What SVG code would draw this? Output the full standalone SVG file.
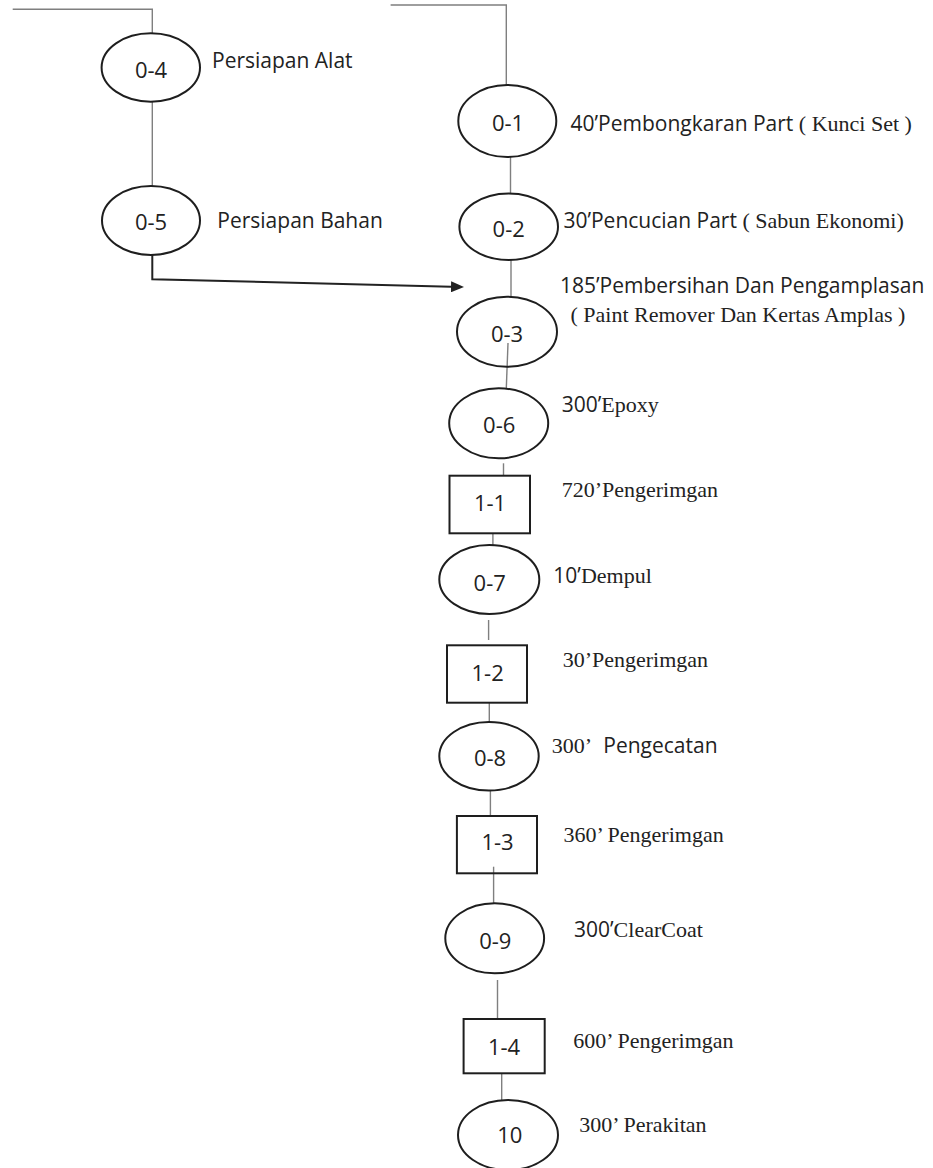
<svg xmlns="http://www.w3.org/2000/svg" width="933" height="1168" viewBox="0 0 933 1168">
<defs>
<style>
.conn{fill:none;stroke:#7f7f7f;stroke-width:1.4}
.arr{fill:none;stroke:#222;stroke-width:2}
.shape{fill:none;stroke:#1e1e1e;stroke-width:2}
.num{font-family:"Open Sans","Liberation Sans",sans-serif;font-size:22px;fill:#222;text-anchor:middle}
.lab{fill:#222}
.s{font-family:"Open Sans","Liberation Sans",sans-serif;font-size:21px}
.t{font-family:"Liberation Serif","Times New Roman",serif;font-size:22px}
</style>
<marker id="ah" viewBox="0 0 13 11" refX="0" refY="5.5" markerWidth="13" markerHeight="11" markerUnits="userSpaceOnUse" orient="auto">
<path d="M0,0 L13,5.5 L0,11 z" fill="#222"/>
</marker>
</defs>
<rect width="933" height="1168" fill="#fff"/>
<g id="connectors">
<path class="conn" d="M12.7,9.3 H152.3 V33.3"/>
<path class="conn" d="M152.3,101.7 V186"/>
<path class="arr" d="M152.3,255 V279.3 L451,286.7" marker-end="url(#ah)"/>
<path class="conn" d="M390.6,5 H506.3 V85"/>
<path class="conn" d="M510.5,156.7 V193.3"/>
<path class="conn" d="M511,260 V297"/>
<path class="conn" d="M508,343 L506.3,388.3"/>
<path class="conn" d="M503.5,463.3 V475.7"/>
<path class="conn" d="M492.9,533.3 V545"/>
<path class="conn" d="M488.6,620 V640"/>
<path class="conn" d="M489.3,702.7 V722"/>
<path class="conn" d="M490.4,790.7 V816"/>
<path class="conn" d="M493.6,866.7 V903.3"/>
<path class="conn" d="M497.5,980 V1019"/>
<path class="conn" d="M501.7,1073.3 V1100"/>
</g>
<g id="node-0-4">
<ellipse class="shape" cx="150.8" cy="67.5" rx="49.2" ry="34.2"/>
<text class="num" x="151" y="78.3">0-4</text>
<text class="lab" x="212" y="67.7"><tspan class="s">Persiapan Alat</tspan></text>
</g>
<g id="node-0-5">
<ellipse class="shape" cx="151" cy="220.5" rx="49" ry="34.5"/>
<text class="num" x="151" y="230">0-5</text>
<text class="lab" x="217.3" y="228.3"><tspan class="s">Persiapan Bahan</tspan></text>
</g>
<g id="node-0-1">
<ellipse class="shape" cx="507.3" cy="121" rx="49" ry="36"/>
<text class="num" x="508" y="130.7">0-1</text>
<text class="lab" x="570.5" y="130.7"><tspan class="s">40’Pembongkaran Part </tspan><tspan class="t">( Kunci Set )</tspan></text>
</g>
<g id="node-0-2">
<ellipse class="shape" cx="508.7" cy="226.7" rx="49.3" ry="33.3"/>
<text class="num" x="508.7" y="237">0-2</text>
<text class="lab" x="563.4" y="228.3"><tspan class="s">30’Pencucian Part </tspan><tspan class="t">( Sabun Ekonomi)</tspan></text>
</g>
<g id="node-0-3">
<ellipse class="shape" cx="507" cy="331.7" rx="50" ry="35"/>
<text class="num" x="507" y="341.7">0-3</text>
<text class="lab" x="560" y="293.3"><tspan class="s">185’Pembersihan Dan Pengamplasan</tspan></text>
<text class="lab" x="570.5" y="321.7"><tspan class="t">( Paint Remover Dan Kertas Amplas )</tspan></text>
</g>
<g id="node-0-6">
<ellipse class="shape" cx="498.7" cy="423.3" rx="49.5" ry="35"/>
<text class="num" x="499.2" y="433.3">0-6</text>
<text class="lab" x="561.7" y="412.3"><tspan class="s">300’</tspan><tspan class="t">Epoxy</tspan></text>
</g>
<g id="node-1-1">
<rect class="shape" x="449.5" y="475.7" width="80.5" height="57.6"/>
<text class="num" x="490" y="511">1-1</text>
<text class="lab" x="561.7" y="496.7"><tspan class="t">720’Pengerimgan</tspan></text>
</g>
<g id="node-0-7">
<ellipse class="shape" cx="489.3" cy="579.5" rx="50" ry="34.5"/>
<text class="num" x="489.7" y="590.7">0-7</text>
<text class="lab" x="553.3" y="583.3"><tspan class="s">10’</tspan><tspan class="t">Dempul</tspan></text>
</g>
<g id="node-1-2">
<rect class="shape" x="447" y="645.3" width="80" height="57.4"/>
<text class="num" x="487.6" y="681">1-2</text>
<text class="lab" x="562.7" y="667.3"><tspan class="t">30’Pengerimgan</tspan></text>
</g>
<g id="node-0-8">
<ellipse class="shape" cx="489" cy="756.3" rx="49.7" ry="34.3"/>
<text class="num" x="490" y="766">0-8</text>
<text class="lab" y="753.3"><tspan class="t" x="551.7">300’</tspan><tspan class="s" x="603.3">Pengecatan</tspan></text>
</g>
<g id="node-1-3">
<rect class="shape" x="456.9" y="816" width="80.1" height="57.3"/>
<text class="num" x="497.5" y="850">1-3</text>
<text class="lab" x="563.4" y="841.7"><tspan class="t">360’ Pengerimgan</tspan></text>
</g>
<g id="node-0-9">
<ellipse class="shape" cx="494.7" cy="938.3" rx="49.4" ry="35"/>
<text class="num" x="495.3" y="949.3">0-9</text>
<text class="lab" x="574" y="937.3"><tspan class="s">300’</tspan><tspan class="t">ClearCoat</tspan></text>
</g>
<g id="node-1-4">
<rect class="shape" x="463.6" y="1019" width="81.1" height="54.3"/>
<text class="num" x="504" y="1055">1-4</text>
<text class="lab" x="573.3" y="1048.3"><tspan class="t">600’ Pengerimgan</tspan></text>
</g>
<g id="node-10">
<ellipse class="shape" cx="508" cy="1135" rx="50" ry="35"/>
<text class="num" x="509.8" y="1143.3">10</text>
<text class="lab" x="579.3" y="1131.7"><tspan class="t">300’ Perakitan</tspan></text>
</g>
</svg>
